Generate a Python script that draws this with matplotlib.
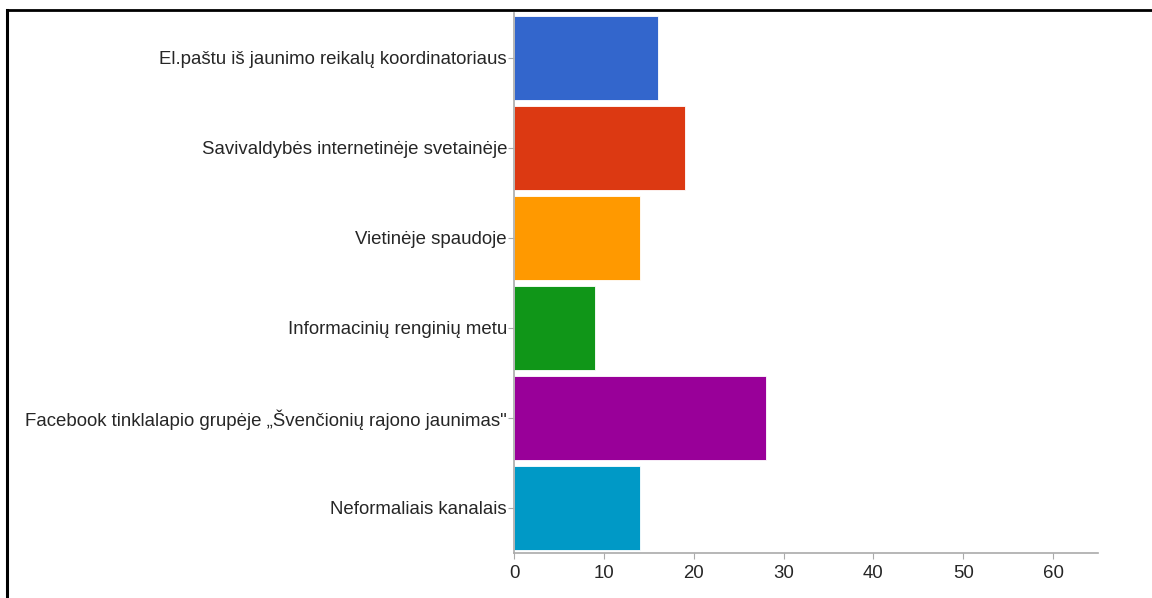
import matplotlib.pyplot as plt
from matplotlib.lines import Line2D

# data
categories = [
    "El.paštu iš jaunimo reikalų koordinatoriaus",
    "Savivaldybės internetinėje svetainėje",
    "Vietinėje spaudoje",
    "Informacinių renginių metu",
    "Facebook tinklalapio grupėje „Švenčionių rajono jaunimas\"",
    "Neformaliais kanalais",
]
values = [16, 19, 14, 9, 28, 14]
colors = ["#3366cc", "#dc3912", "#ff9900", "#109618", "#990099", "#0099c6"]
xticks = [0, 10, 20, 30, 40, 50, 60]

plt.rcParams['font.family'] = ['Liberation Sans', 'DejaVu Sans']

fig = plt.figure(figsize=(11.52, 5.98), dpi=100)
ax = fig.add_axes([0.4462, 0.0753, 0.5069, 0.9030])

pos = list(range(len(categories)))
ax.barh(pos, values, height=0.93, color=colors, edgecolor="white", linewidth=0.6)

ax.set_ylim(len(categories) - 0.5, -0.5)
ax.set_xlim(0, 65)
ax.set_yticks(pos)
ax.set_yticklabels(categories, fontsize=13.4, color="#262626")
ax.set_xticks(xticks)
ax.set_xticklabels([str(t) for t in xticks], fontsize=13.4, color="#262626")

for side in ["top", "right"]:
    ax.spines[side].set_visible(False)
for side in ["left", "bottom"]:
    ax.spines[side].set_color("#aaaaaa")
    ax.spines[side].set_linewidth(1.2)
ax.tick_params(axis="y", length=4, color="#aaaaaa", pad=1)
ax.tick_params(axis="x", length=4, color="#aaaaaa", pad=5)

# black frame of the screenshot (top and left edge)
fig.add_artist(Line2D([7 / 1152, 1], [1 - 10 / 598, 1 - 10 / 598], color="black", linewidth=2))
fig.add_artist(Line2D([7 / 1152, 7 / 1152], [0, 1 - 10 / 598], color="black", linewidth=2.2))

fig.savefig("out.png", dpi=100)
